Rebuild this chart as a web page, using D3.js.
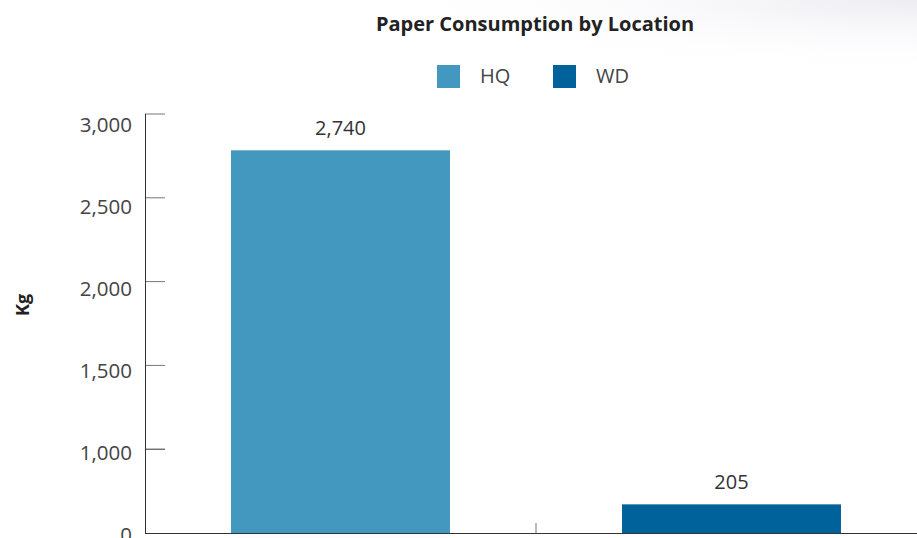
<!DOCTYPE html>
<html>
<head>
<meta charset="utf-8">
<script src="https://cdn.jsdelivr.net/npm/d3@7"></script>
<style>
  html, body { margin: 0; padding: 0; background: #ffffff; }
  svg { display: block; font-family: "Open Sans", "Noto Sans", sans-serif; }
</style>
</head>
<body>
<svg id="chart" width="917" height="538"></svg>
<script>
// Paper consumption per site, in kilograms
const locations = ["HQ", "WD"];
const consumption = [2740, 205];
const valueLabels = ["2,740", "205"];
const seriesColors = ["#4398c0", "#00629b"];
const yTickLabels = ["3,000", "2,500", "2,000", "1,500", "1,000", "0"];

const W = 917, H = 538;
const plot = { left: 145, right: 927, top: 114, bottom: 533 };

const svg = d3.select("#chart");

// soft haze in the top-right corner
const defs = svg.append("defs");
const grad = defs.append("radialGradient")
  .attr("id", "haze").attr("cx", "100%").attr("cy", "0%").attr("r", "60%");
grad.append("stop").attr("offset", "0%").attr("stop-color", "#ececf2");
grad.append("stop").attr("offset", "100%").attr("stop-color", "#ffffff").attr("stop-opacity", 0);
svg.append("rect").attr("width", W).attr("height", H).attr("fill", "#fff");
svg.append("rect").attr("width", W).attr("height", 120).attr("fill", "url(#haze)");

const x = d3.scaleBand()
  .domain(locations)
  .range([plot.left, plot.right])
  .paddingInner(0)
  .paddingOuter(0);
const barW = x.bandwidth() * 0.56;

const y = d3.scaleLinear()
  .domain([0, 3000])
  .range([plot.bottom, plot.top]);

// axis ticks are laid out evenly from top to bottom
const yTickPos = d3.scalePoint()
  .domain(yTickLabels)
  .range([plot.top, plot.bottom]);
// labels hang slightly below their tick marks
const yLabelPos = d3.scalePoint()
  .domain(yTickLabels)
  .range([plot.top + 10, plot.bottom + 1]);

// title
svg.append("text")
  .attr("x", 535).attr("y", 31)
  .attr("text-anchor", "middle")
  .attr("font-size", 20).attr("font-weight", 700)
  .attr("fill", "#222")
  .text("Paper Consumption by Location");

// legend
const legend = svg.append("g");
const legendX = [437, 553];
locations.forEach((loc, i) => {
  legend.append("rect")
    .attr("x", legendX[i]).attr("y", 65)
    .attr("width", 23).attr("height", 23)
    .attr("fill", seriesColors[i]);
  legend.append("text")
    .attr("x", legendX[i] + 43).attr("y", 83)
    .attr("font-size", 20).attr("fill", "#444")
    .text(loc);
});

// y-axis title
svg.append("text")
  .attr("transform", "translate(29,305) rotate(-90)")
  .attr("text-anchor", "middle")
  .attr("font-size", 18).attr("font-weight", 700)
  .attr("fill", "#222")
  .text("Kg");

// y axis labels
const yAxis = d3.axisLeft(yLabelPos).tickSize(0).tickPadding(13);
const yg = svg.append("g")
  .attr("transform", `translate(${plot.left},0)`)
  .call(yAxis);
yg.select(".domain").remove();
yg.selectAll("text")
  .attr("font-size", 20.5).attr("fill", "#444")
  .attr("dy", "0.36em")
  .attr("font-family", "'Open Sans', 'Noto Sans', sans-serif");

// inward tick marks
svg.append("g").selectAll("line")
  .data(yTickLabels.filter(d => d !== "0"))
  .join("line")
  .attr("x1", plot.left).attr("x2", plot.left + 20)
  .attr("y1", d => yTickPos(d)).attr("y2", d => yTickPos(d))
  .attr("stroke", (d, i) => i === 4 ? "#333" : "#777")
  .attr("stroke-width", 1);

// bars
svg.append("g").selectAll("rect")
  .data(consumption)
  .join("rect")
  .attr("x", (d, i) => x(locations[i]) + (x.bandwidth() - barW) / 2)
  .attr("y", d => y(d))
  .attr("width", barW)
  .attr("height", d => y(0) - y(d))
  .attr("fill", (d, i) => seriesColors[i]);

// value labels
svg.append("g").selectAll("text")
  .data(consumption)
  .join("text")
  .attr("x", (d, i) => x(locations[i]) + x.bandwidth() / 2)
  .attr("y", d => y(d) - 15)
  .attr("text-anchor", "middle")
  .attr("font-size", 20).attr("fill", "#333")
  .text((d, i) => valueLabels[i]);

// category separator tick on the x axis
svg.append("line")
  .attr("x1", x("WD")).attr("x2", x("WD"))
  .attr("y1", plot.bottom).attr("y2", plot.bottom - 10)
  .attr("stroke", "#777");

// spines
svg.append("line")
  .attr("x1", plot.left + 0.5).attr("x2", plot.left + 0.5)
  .attr("y1", plot.top).attr("y2", plot.bottom + 0.5)
  .attr("stroke", "#333");
svg.append("line")
  .attr("x1", plot.left).attr("x2", W)
  .attr("y1", plot.bottom + 0.5).attr("y2", plot.bottom + 0.5)
  .attr("stroke", "#333");
</script>
</body>
</html>
